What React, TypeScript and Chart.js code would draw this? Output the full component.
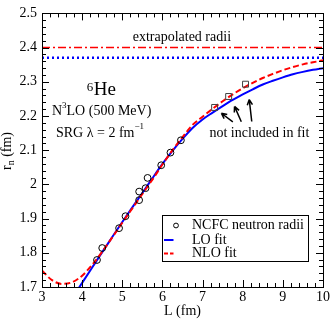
import React, { useEffect, useRef } from 'react';
import { Chart, registerables } from 'chart.js';

Chart.register(...registerables);

// ---- data ----
const xTickValues = [3, 4, 5, 6, 7, 8, 9, 10];
const yTickValues = [1.7, 1.8, 1.9, 2.0, 2.1, 2.2, 2.3, 2.4, 2.5];

const ncfcL = [4.37, 4.5, 4.92, 5.08, 5.42, 5.42, 5.58, 5.63, 5.97, 6.2, 6.46];
const ncfcR = [1.779, 1.814, 1.872, 1.907, 1.954, 1.979, 1.989, 2.019, 2.056, 2.093, 2.129];

const excludedL = [7.3, 7.65, 8.07];
const excludedR = [2.225, 2.257, 2.293];

const loFitL = [3.9, 4.0, 4.25, 4.5, 4.75, 5.0, 5.25, 5.5, 5.75, 6.0, 6.25, 6.5, 6.75, 7.0, 7.25, 7.5, 7.75, 8.0, 8.25, 8.5, 8.75, 9.0, 9.25, 9.5, 9.75, 10.0];
const loFitR = [1.694, 1.712, 1.757, 1.802, 1.846, 1.89, 1.933, 1.975, 2.018, 2.06, 2.098, 2.133, 2.165, 2.19, 2.21, 2.229, 2.247, 2.263, 2.278, 2.292, 2.303, 2.313, 2.322, 2.329, 2.335, 2.34];

const nloFitL = [3.0, 3.25, 3.5, 3.75, 4.0, 4.25, 4.5, 4.75, 5.0, 5.25, 5.5, 5.75, 6.0, 6.25, 6.5, 6.75, 7.0, 7.25, 7.5, 7.75, 8.0, 8.25, 8.5, 8.75, 9.0, 9.25, 9.5, 9.75, 10.0];
const nloFitR = [1.748, 1.72, 1.709, 1.714, 1.733, 1.765, 1.803, 1.845, 1.888, 1.93, 1.972, 2.014, 2.058, 2.1, 2.138, 2.174, 2.198, 2.221, 2.243, 2.263, 2.281, 2.297, 2.311, 2.323, 2.334, 2.343, 2.351, 2.357, 2.363];

const extrapolatedNLO = 2.4;
const extrapolatedLO = 2.37;
const lRange = [3, 10];
const rRange = [1.7, 2.5];

const FONT = '"Liberation Serif", "Times New Roman", serif';

type Part = { t: string; size: number; dy: number };

function drawRich(ctx: CanvasRenderingContext2D, x: number, y: number, parts: Part[]) {
  let cx = x;
  for (const p of parts) {
    ctx.font = `${p.size}px ${FONT}`;
    ctx.fillText(p.t, cx, y + p.dy);
    cx += ctx.measureText(p.t).width;
  }
}

function arrow(ctx: CanvasRenderingContext2D, x1: number, y1: number, x2: number, y2: number) {
  ctx.beginPath();
  ctx.moveTo(x1, y1);
  ctx.lineTo(x2, y2);
  const ang = Math.atan2(y2 - y1, x2 - x1);
  const hl = 6;
  const spread = 0.45;
  ctx.moveTo(x2, y2);
  ctx.lineTo(x2 - hl * Math.cos(ang - spread), y2 - hl * Math.sin(ang - spread));
  ctx.moveTo(x2, y2);
  ctx.lineTo(x2 - hl * Math.cos(ang + spread), y2 - hl * Math.sin(ang + spread));
  ctx.stroke();
}

const decoPlugin = {
  id: 'deco',
  afterDatasetsDraw(chart: any) {
    const { ctx, chartArea: a } = chart;
    const xs = chart.scales.x;
    const ys = chart.scales.y;
    const px = (v: number) => xs.getPixelForValue(v);
    const py = (v: number) => ys.getPixelForValue(v);
    ctx.save();
    ctx.strokeStyle = '#000';
    ctx.fillStyle = '#000';
    ctx.lineWidth = 1;
    ctx.setLineDash([]);

    // frame
    ctx.strokeRect(Math.round(a.left) + 0.5, Math.round(a.top) + 0.5, Math.round(a.right - a.left), Math.round(a.bottom - a.top));

    // ticks on all four sides
    ctx.beginPath();
    for (let i = 0; i <= 35; i++) {
      const v = lRange[0] + i * 0.2;
      const p = Math.round(px(v)) + 0.5;
      const len = i % 5 === 0 ? 7 : 4;
      ctx.moveTo(p, a.bottom);
      ctx.lineTo(p, a.bottom - len);
      ctx.moveTo(p, a.top);
      ctx.lineTo(p, a.top + len);
    }
    for (let i = 0; i <= 40; i++) {
      const v = rRange[0] + i * 0.02;
      const p = Math.round(py(v)) + 0.5;
      const len = i % 5 === 0 ? 7 : 4;
      ctx.moveTo(a.left, p);
      ctx.lineTo(a.left + len, p);
      ctx.moveTo(a.right, p);
      ctx.lineTo(a.right - len, p);
    }
    ctx.stroke();

    // annotations
    ctx.textBaseline = 'alphabetic';
    ctx.textAlign = 'left';
    drawRich(ctx, px(5.259), py(2.4206), [{ t: 'extrapolated radii', size: 14, dy: 0 }]);
    drawRich(ctx, px(4.117), py(2.273), [{ t: '6', size: 13, dy: 0 }]);
    drawRich(ctx, px(4.291), py(2.2617), [{ t: 'He', size: 19, dy: 0 }]);
    drawRich(ctx, px(3.248), py(2.202), [
      { t: 'N', size: 14, dy: 0 },
      { t: '3', size: 9, dy: -7 },
      { t: 'LO (500 MeV)', size: 14, dy: 0 },
    ]);
    drawRich(ctx, px(3.348), py(2.1397), [
      { t: 'SRG \u03bb = 2 fm', size: 14, dy: 0 },
      { t: '\u22121', size: 9, dy: -8 },
    ]);
    drawRich(ctx, px(7.17), py(2.139), [{ t: 'not included in fit', size: 14, dy: 0 }]);

    ctx.lineWidth = 1.5;
    arrow(ctx, px(7.754), py(2.183), px(7.468), py(2.208));
    arrow(ctx, px(7.965), py(2.183), px(7.796), py(2.228));
    arrow(ctx, px(8.225), py(2.184), px(8.163), py(2.248));

    // legend
    ctx.lineWidth = 1;
    const lx = Math.round(a.left + 120) + 0.5;
    const ly = Math.round(a.top + 202) + 0.5;
    ctx.strokeRect(lx, ly, 146, 46);
    const rows = [ly + 10, ly + 24.5, ly + 38];
    ctx.textBaseline = 'middle';
    ctx.font = `14px ${FONT}`;
    ctx.beginPath();
    ctx.arc(lx + 13.5, rows[0], 2.4, 0, Math.PI * 2);
    ctx.stroke();
    ctx.fillText('NCFC neutron radii', lx + 29.5, rows[0]);
    ctx.strokeStyle = '#0000ff';
    ctx.lineWidth = 2;
    ctx.beginPath();
    ctx.moveTo(lx + 1.5, rows[1]);
    ctx.lineTo(lx + 11, rows[1]);
    ctx.stroke();
    ctx.fillText('LO fit', lx + 29.5, rows[1]);
    ctx.strokeStyle = '#ff0000';
    ctx.setLineDash([4, 2]);
    ctx.beginPath();
    ctx.moveTo(lx + 1.5, rows[2]);
    ctx.lineTo(lx + 11, rows[2]);
    ctx.stroke();
    ctx.setLineDash([]);
    ctx.fillText('NLO fit', lx + 29.5, rows[2]);

    // axis titles
    ctx.fillStyle = '#000';
    ctx.textBaseline = 'middle';
    ctx.font = `14px ${FONT}`;
    ctx.textAlign = 'center';
    ctx.fillText('L (fm)', (a.left + a.right) / 2, 311);

    ctx.save();
    ctx.translate(11, 151);
    ctx.rotate(-Math.PI / 2);
    ctx.textAlign = 'left';
    ctx.textBaseline = 'alphabetic';
    ctx.font = `14px ${FONT}`;
    const w1 = ctx.measureText('r').width;
    ctx.font = `10px ${FONT}`;
    const w2 = ctx.measureText('n').width;
    ctx.font = `14px ${FONT}`;
    const w3 = ctx.measureText(' (fm)').width;
    const total = w1 + w2 + w3;
    drawRich(ctx, -total / 2, 0, [
      { t: 'r', size: 14, dy: 0 },
      { t: 'n', size: 10, dy: 3 },
      { t: ' (fm)', size: 14, dy: 0 },
    ]);
    ctx.restore();

    ctx.restore();
  },
};

export default function App() {
  const canvasRef = useRef<HTMLCanvasElement | null>(null);

  useEffect(() => {
    document.body.style.margin = '0';
    const canvas = canvasRef.current;
    if (!canvas) return;

    const toPts = (xsArr: number[], ysArr: number[]) => xsArr.map((v, i) => ({ x: v, y: ysArr[i] }));

    const chart = new Chart(canvas, {
      type: 'line',
      data: {
        datasets: [
          {
            label: 'NCFC neutron radii',
            data: toPts(ncfcL, ncfcR),
            showLine: false,
            pointStyle: 'circle',
            pointRadius: 3.4,
            pointBorderWidth: 1,
            pointBorderColor: '#000',
            pointBackgroundColor: 'rgba(0,0,0,0)',
            order: 0,
          },
          {
            label: 'not included',
            data: toPts(excludedL, excludedR),
            showLine: false,
            pointStyle: 'rect',
            pointRadius: 4.2,
            pointBorderWidth: 1,
            pointBorderColor: '#404040',
            pointBackgroundColor: 'rgba(0,0,0,0)',
            order: 1,
          },
          {
            label: 'NLO fit',
            data: toPts(nloFitL, nloFitR),
            borderColor: '#ff0000',
            borderWidth: 2,
            borderDash: [6, 3],
            pointRadius: 0,
            cubicInterpolationMode: 'monotone',
            clip: 0,
            order: 2,
          },
          {
            label: 'LO fit',
            data: toPts(loFitL, loFitR),
            borderColor: '#0000ff',
            borderWidth: 2,
            pointRadius: 0,
            cubicInterpolationMode: 'monotone',
            clip: 0,
            order: 3,
          },
          {
            label: 'NLO extrapolated',
            data: toPts(lRange, [extrapolatedNLO, extrapolatedNLO]),
            borderColor: '#ff0000',
            borderWidth: 1.5,
            borderDash: [8, 3, 2, 3],
            pointRadius: 0,
            clip: 0,
            order: 4,
          },
          {
            label: 'LO extrapolated',
            data: toPts(lRange, [extrapolatedLO, extrapolatedLO]),
            borderColor: '#0000ff',
            borderWidth: 2.5,
            borderDash: [2, 3],
            pointRadius: 0,
            clip: 0,
            order: 5,
          },
        ],
      },
      options: {
        responsive: false,
        animation: false,
        devicePixelRatio: 1,
        layout: { padding: { top: 5, right: 8, left: 0, bottom: 0 } },
        plugins: {
          legend: { display: false },
          tooltip: { enabled: false },
        },
        scales: {
          x: {
            type: 'linear',
            min: lRange[0],
            max: lRange[1],
            grid: { display: false, drawTicks: false },
            border: { display: false },
            afterFit: (s: any) => {
              s.height = 33;
            },
            afterBuildTicks: (s: any) => {
              s.ticks = xTickValues.map((v) => ({ value: v }));
            },
            ticks: {
              autoSkip: false,
              maxRotation: 0,
              padding: 2,
              color: '#000',
              font: { family: FONT, size: 14 },
              callback: (v: any) => String(v),
            },
          },
          y: {
            type: 'linear',
            min: rRange[0],
            max: rRange[1],
            grid: { display: false, drawTicks: false },
            border: { display: false },
            afterFit: (s: any) => {
              s.width = 42;
            },
            afterBuildTicks: (s: any) => {
              s.ticks = yTickValues.map((v) => ({ value: v }));
            },
            ticks: {
              autoSkip: false,
              padding: 5,
              color: '#000',
              font: { family: FONT, size: 14 },
              callback: (v: any) => String(+Number(v).toFixed(1)),
            },
          },
        },
      },
      plugins: [decoPlugin],
    } as any);

    return () => chart.destroy();
  }, []);

  return (
    <div style={{ position: 'absolute', left: 0, top: 0, width: 332, height: 320, background: '#fff' }}>
      <canvas ref={canvasRef} width={332} height={320} style={{ width: 332, height: 320 }} />
    </div>
  );
}
